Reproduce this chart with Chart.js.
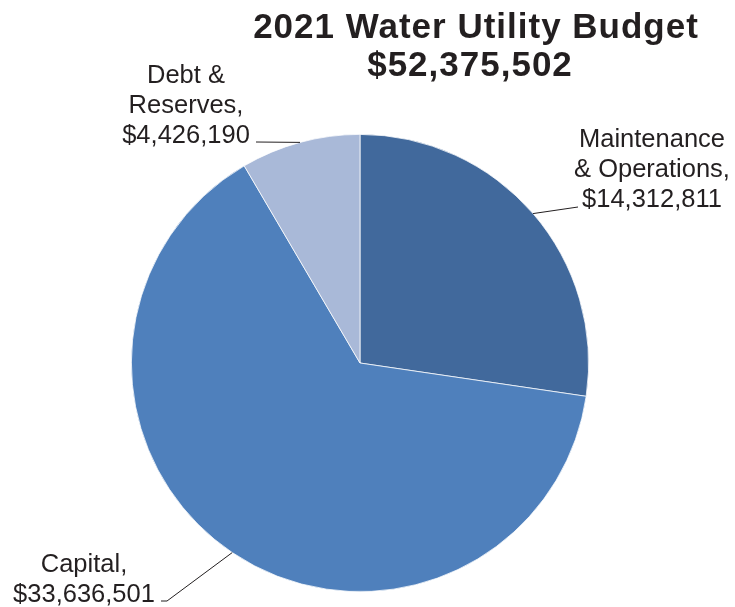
<!DOCTYPE html>
<html>
<head>
<meta charset="utf-8">
<script src="https://cdn.jsdelivr.net/npm/chart.js@4/dist/chart.umd.min.js"></script>
<style>
    html, body { margin: 0; padding: 0; background: #ffffff; }
    #wrap { position: relative; width: 735px; height: 607px; }
</style>
</head>
<body>
<div id="wrap"><canvas id="budget-chart"></canvas></div>
<script>
// 2021 water utility budget breakdown
const categories = ["Maintenance & Operations", "Capital", "Debt & Reserves"];
const amounts = [14312811, 33636501, 4426190];
const labelLines = [
    ["Maintenance", "& Operations,"],
    ["Capital,"],
    ["Debt &", "Reserves,"],
];
const titleLines = ["2021 Water Utility Budget", "$52,375,502"];

const sliceColors = ["#41699c", "#4f80bc", "#a9b9d8"];
const textColor = "#231f20";

// where each callout sits: text block centre / first baseline, and leader path end
const callouts = [
    { x: 652, y: 147, path: [[578, 207]] },
    { x: 84, y: 572, path: [[167, 601], [161, 601]] },
    { x: 186, y: 83, path: [[256, 142]] },
];

const fmt = (v) => "$" + v.toLocaleString("en-US");

const calloutPlugin = {
    id: "callouts",
    afterDraw(chart) {
        const ctx = chart.ctx;
        const arcs = chart.getDatasetMeta(0).data;
        ctx.save();

        // title
        ctx.fillStyle = textColor;
        ctx.textAlign = "center";
        ctx.textBaseline = "alphabetic";
        ctx.font = "bold 35px 'Liberation Sans', Arial, sans-serif";
        ctx.letterSpacing = "1px";
        ctx.fillText(titleLines[0], 476, 38);
        ctx.fillText(titleLines[1], 470, 76);
        ctx.letterSpacing = "0px";

        // slice labels with leader lines
        ctx.font = "25.5px 'Liberation Sans', Arial, sans-serif";
        arcs.forEach((arc, i) => {
            const { x, y, startAngle, endAngle, outerRadius } = arc.getProps(
                ["x", "y", "startAngle", "endAngle", "outerRadius"],
                true
            );
            const mid = (startAngle + endAngle) / 2;
            const c = callouts[i];

            ctx.beginPath();
            ctx.moveTo(x + Math.cos(mid) * outerRadius, y + Math.sin(mid) * outerRadius);
            c.path.forEach((p) => ctx.lineTo(p[0], p[1]));
            ctx.strokeStyle = textColor;
            ctx.lineWidth = 1;
            ctx.stroke();

            const lines = labelLines[i].concat([fmt(amounts[i])]);
            lines.forEach((t, k) => ctx.fillText(t, c.x, c.y + k * 30));
        });
        ctx.restore();
    },
};

new Chart(document.getElementById("budget-chart"), {
    type: "pie",
    data: {
        labels: categories,
        datasets: [
            {
                data: amounts,
                backgroundColor: sliceColors,
                borderColor: "#ffffff",
                borderWidth: 0.75,
            },
        ],
    },
    options: {
        responsive: true,
        maintainAspectRatio: false,
        animation: false,
        layout: {
            padding: { left: 131, right: 146, top: 134, bottom: 15 },
        },
        plugins: {
            legend: { display: false },
            tooltip: { enabled: false },
            title: { display: false },
        },
    },
    plugins: [calloutPlugin],
});
</script>
</body>
</html>
